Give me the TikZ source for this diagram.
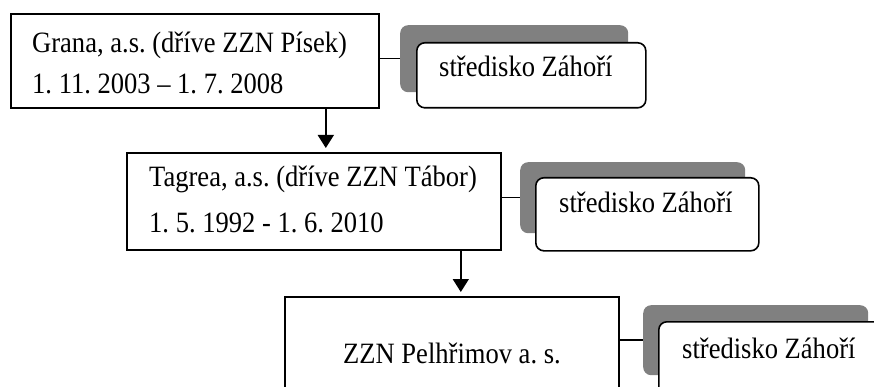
\documentclass[tikz,border=0pt]{standalone}
\usepackage{fontspec}
\setmainfont{Liberation Serif}[FakeStretch=0.9]
\frenchspacing
\usetikzlibrary{arrows.meta}
\definecolor{gray50}{RGB}{128,128,128}
\tikzset{
  box/.style={draw=black, line width=1.6pt, fill=white, inner sep=0pt, anchor=north west},
  shadowbox/.style={fill=gray50, rounded corners=8pt, inner sep=0pt, anchor=north west},
  unitbox/.style={draw=black, line width=1.6pt, fill=white, rounded corners=8pt, inner sep=0pt, anchor=north west},
  txt/.style={inner sep=0pt, anchor=base west, font=\fontsize{29.5}{34}\selectfont},
  link/.style={draw=black, line width=1.6pt},
  arr/.style={draw=black, line width=1.6pt, -{Triangle[width=16pt,length=13pt]}, shorten >=4pt},
}
\begin{document}
\begin{tikzpicture}[x=1pt,y=-1pt]
\useasboundingbox (0,0) rectangle (874,387);
\clip (0,0) rectangle (874,387);
\fill[white] (0,0) rectangle (874,387);
% level 1
\node[box, minimum width=368pt, minimum height=94pt] (b1) at (10,13) {};
\node[txt] (t1a) at (32,53) {Grana, a.s. (dříve ZZN Písek)};
\node[txt] (t1b) at (32,94) {1. 11. 2003 – 1. 7. 2008};
\node[shadowbox, minimum width=228pt, minimum height=67pt] (g1) at (400,25) {};
\node[unitbox, minimum width=229pt, minimum height=65pt] (w1) at (416,42) {};
\node[txt] (s1) at (439,77) {středisko Záhoří};
% level 2
\node[box, minimum width=374pt, minimum height=97pt] (b2) at (126,152) {};
\node[txt] (t2a) at (149,187) {Tagrea, a.s. (dříve ZZN Tábor)};
\node[txt] (t2b) at (149,232) {1. 5. 1992 - 1. 6. 2010};
\node[shadowbox, minimum width=225pt, minimum height=71pt] (g2) at (520,162) {};
\node[unitbox, minimum width=223pt, minimum height=73pt] (w2) at (535,177) {};
\node[txt] (s2) at (559,212) {středisko Záhoří};
% level 3
\node[box, minimum width=334pt, minimum height=140pt] (b3) at (284,296) {};
\node[txt] (t3) at (343,363) {ZZN Pelhřimov a. s.};
\node[shadowbox, minimum width=225pt, minimum height=70pt] (g3) at (643,305) {};
\node[unitbox, minimum width=250pt, minimum height=100pt] (w3) at (658,321) {};
\node[txt] (s3) at (682,358) {středisko Záhoří};
% connectors
\draw[link] (b1.east |- g1.west) -- (g1.west);
\draw[link] (b2.east |- g2.west) -- (g2.west);
\draw[link] (b3.east |- g3.west) -- (g3.west);
\draw[arr] ([xshift=131pt]b1.south) -- ([xshift=131pt]b1.south |- b2.north);
\draw[arr] ([xshift=147pt]b2.south) -- ([xshift=147pt]b2.south |- b3.north);
\end{tikzpicture}
\end{document}
